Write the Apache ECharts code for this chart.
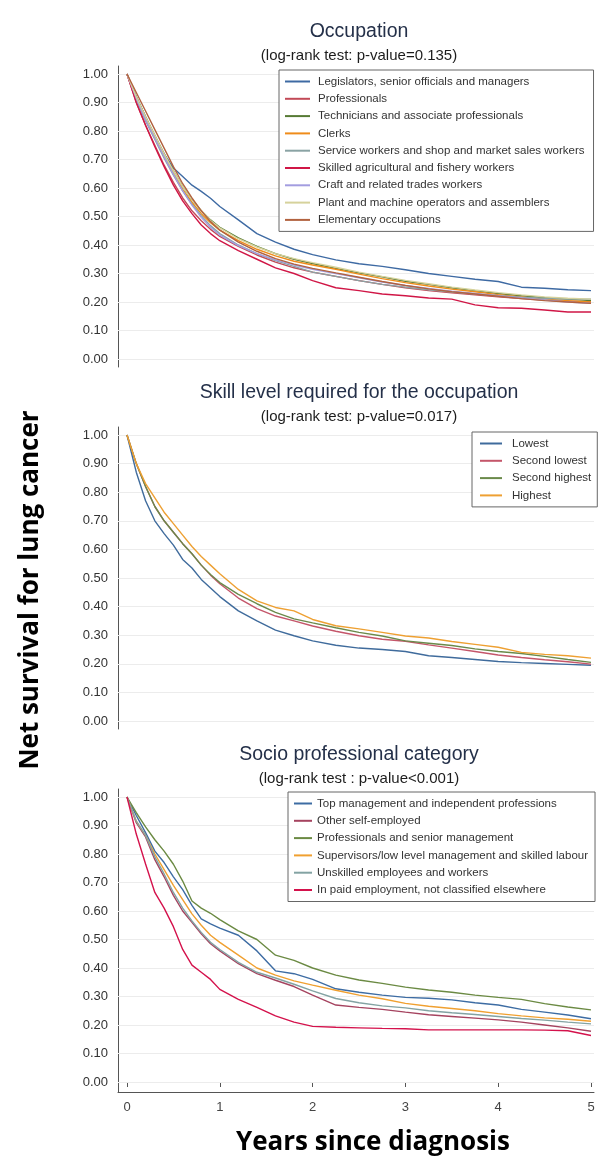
<!DOCTYPE html>
<html>
<head>
<meta charset="utf-8">
<script src="https://cdn.jsdelivr.net/npm/echarts@6/dist/echarts.min.js"></script>
<style>
  html, body { margin: 0; padding: 0; background: #ffffff; }
  #chart { width: 609px; height: 1166px; }
</style>
</head>
<body>
<div id="chart"></div>
<script>
// Follow-up times (years since diagnosis) at which the survival curves are read
const YEARS = [0, 0.1, 0.2, 0.3, 0.4, 0.5, 0.6, 0.7, 0.8, 0.9, 1.0, 1.2, 1.4, 1.6, 1.8, 2.0,
               2.25, 2.5, 2.75, 3.0, 3.25, 3.5, 3.75, 4.0, 4.25, 4.5, 4.75, 5.0];
const Y_TICKS = [0, 0.1, 0.2, 0.3, 0.4, 0.5, 0.6, 0.7, 0.8, 0.9, 1.0];

// Panel titles
const TITLES = ['Occupation', 'Skill level required for the occupation', 'Socio professional category'];
const SUBTITLES = ['(log-rank test: p-value=0.135)', '(log-rank test: p-value=0.017)', '(log-rank test : p-value<0.001)'];

// Panel 1: occupation
const OCC_NAMES = ['Legislators, senior officials and managers', 'Professionals',
  'Technicians and associate professionals', 'Clerks',
  'Service workers and shop and market sales workers', 'Skilled agricultural and fishery workers',
  'Craft and related trades workers', 'Plant and machine operators and assemblers', 'Elementary occupations'];
const OCC_LEGISLATORS = [1.0, 0.92, 0.85, 0.78, 0.72, 0.67, 0.64, 0.61, 0.588, 0.564, 0.535, 0.488, 0.44, 0.41, 0.385, 0.366, 0.348, 0.334, 0.325, 0.313, 0.30, 0.29, 0.28, 0.272, 0.252, 0.248, 0.243, 0.24];
const OCC_PROFESSIONALS = [1.0, 0.90, 0.82, 0.75, 0.68, 0.62, 0.565, 0.52, 0.485, 0.455, 0.43, 0.395, 0.365, 0.34, 0.32, 0.305, 0.29, 0.275, 0.262, 0.25, 0.24, 0.232, 0.225, 0.218, 0.212, 0.207, 0.203, 0.20];
const OCC_TECHNICIANS = [1.0, 0.92, 0.85, 0.785, 0.72, 0.66, 0.605, 0.56, 0.52, 0.488, 0.462, 0.425, 0.395, 0.37, 0.35, 0.335, 0.318, 0.302, 0.288, 0.273, 0.262, 0.25, 0.24, 0.23, 0.222, 0.215, 0.21, 0.205];
const OCC_CLERKS = [1.0, 0.915, 0.84, 0.775, 0.71, 0.65, 0.595, 0.55, 0.51, 0.478, 0.452, 0.415, 0.385, 0.362, 0.343, 0.33, 0.315, 0.298, 0.282, 0.268, 0.256, 0.245, 0.236, 0.226, 0.218, 0.21, 0.205, 0.20];
const OCC_SERVICE = [1.0, 0.91, 0.835, 0.77, 0.705, 0.645, 0.59, 0.543, 0.503, 0.468, 0.44, 0.40, 0.37, 0.345, 0.325, 0.305, 0.29, 0.275, 0.262, 0.252, 0.243, 0.235, 0.228, 0.222, 0.217, 0.213, 0.21, 0.21];
const OCC_AGRICULTURAL = [1.0, 0.90, 0.82, 0.745, 0.675, 0.61, 0.555, 0.51, 0.47, 0.44, 0.415, 0.38, 0.35, 0.32, 0.30, 0.275, 0.25, 0.24, 0.228, 0.222, 0.214, 0.21, 0.19, 0.18, 0.178, 0.172, 0.165, 0.165];
const OCC_CRAFT = [1.0, 0.915, 0.84, 0.775, 0.71, 0.648, 0.59, 0.54, 0.497, 0.462, 0.435, 0.398, 0.37, 0.348, 0.33, 0.315, 0.30, 0.285, 0.27, 0.258, 0.248, 0.238, 0.23, 0.222, 0.214, 0.207, 0.20, 0.195];
const OCC_PLANT = [1.0, 0.92, 0.85, 0.785, 0.72, 0.66, 0.605, 0.56, 0.52, 0.486, 0.46, 0.422, 0.393, 0.37, 0.352, 0.338, 0.322, 0.305, 0.29, 0.276, 0.264, 0.252, 0.242, 0.233, 0.225, 0.218, 0.213, 0.21];
const OCC_ELEMENTARY = [1.0, 0.935, 0.87, 0.805, 0.74, 0.675, 0.615, 0.565, 0.52, 0.482, 0.452, 0.41, 0.378, 0.352, 0.333, 0.318, 0.302, 0.287, 0.272, 0.258, 0.246, 0.236, 0.228, 0.22, 0.212, 0.205, 0.20, 0.195];
const OCC_COLORS = ['#3e6aa3', '#c24a57', '#567a34', '#ef8c1a', '#8aa3a4', '#d01646', '#a39de0', '#d6d29c', '#b2623f'];

// Panel 2: skill level
const SKILL_NAMES = ['Lowest', 'Second lowest', 'Second highest', 'Highest'];
const SKILL_LOWEST = [1.0, 0.87, 0.77, 0.70, 0.655, 0.615, 0.565, 0.535, 0.495, 0.465, 0.435, 0.385, 0.35, 0.318, 0.298, 0.28, 0.265, 0.255, 0.25, 0.243, 0.228, 0.222, 0.215, 0.208, 0.204, 0.201, 0.198, 0.195];
const SKILL_SECOND_LOWEST = [1.0, 0.90, 0.82, 0.75, 0.70, 0.66, 0.62, 0.585, 0.545, 0.51, 0.48, 0.43, 0.393, 0.367, 0.35, 0.332, 0.314, 0.298, 0.286, 0.279, 0.266, 0.255, 0.243, 0.231, 0.222, 0.214, 0.207, 0.199];
const SKILL_SECOND_HIGHEST = [1.0, 0.90, 0.82, 0.75, 0.70, 0.66, 0.62, 0.585, 0.545, 0.512, 0.484, 0.443, 0.41, 0.38, 0.357, 0.343, 0.326, 0.31, 0.297, 0.28, 0.272, 0.264, 0.252, 0.243, 0.236, 0.226, 0.215, 0.205];
const SKILL_HIGHEST = [1.0, 0.90, 0.83, 0.78, 0.73, 0.69, 0.65, 0.61, 0.575, 0.545, 0.515, 0.46, 0.42, 0.397, 0.385, 0.355, 0.333, 0.322, 0.31, 0.297, 0.29, 0.278, 0.268, 0.258, 0.24, 0.233, 0.228, 0.22];
const SKILL_COLORS = ['#3f6b9c', '#c4566a', '#6a8a4a', '#eea032'];

// Panel 3: socio professional category
const SPC_NAMES = ['Top management and independent professions', 'Other self-employed',
  'Professionals and senior management', 'Supervisors/low level management and skilled labour',
  'Unskilled employees and workers', 'In paid employment, not classified elsewhere'];
const SPC_TOP = [1.0, 0.935, 0.875, 0.81, 0.77, 0.72, 0.675, 0.62, 0.572, 0.555, 0.54, 0.515, 0.46, 0.39, 0.38, 0.36, 0.327, 0.315, 0.305, 0.297, 0.294, 0.288, 0.278, 0.27, 0.255, 0.245, 0.235, 0.222];
const SPC_SELF_EMPLOYED = [1.0, 0.91, 0.86, 0.78, 0.72, 0.655, 0.60, 0.56, 0.52, 0.485, 0.46, 0.415, 0.38, 0.357, 0.335, 0.305, 0.27, 0.262, 0.255, 0.245, 0.236, 0.23, 0.224, 0.218, 0.21, 0.20, 0.19, 0.178];
const SPC_PROFESSIONALS = [1.0, 0.945, 0.895, 0.85, 0.81, 0.764, 0.705, 0.635, 0.61, 0.592, 0.57, 0.53, 0.50, 0.445, 0.427, 0.40, 0.375, 0.358, 0.346, 0.333, 0.323, 0.315, 0.305, 0.297, 0.29, 0.275, 0.263, 0.253];
const SPC_SUPERVISORS = [1.0, 0.915, 0.865, 0.80, 0.745, 0.69, 0.64, 0.59, 0.55, 0.515, 0.49, 0.445, 0.40, 0.375, 0.355, 0.34, 0.322, 0.305, 0.292, 0.276, 0.266, 0.258, 0.25, 0.24, 0.232, 0.225, 0.22, 0.213];
const SPC_UNSKILLED = [1.0, 0.915, 0.865, 0.79, 0.73, 0.665, 0.61, 0.565, 0.525, 0.49, 0.465, 0.42, 0.385, 0.365, 0.343, 0.32, 0.293, 0.278, 0.267, 0.26, 0.25, 0.243, 0.237, 0.23, 0.223, 0.217, 0.21, 0.204];
const SPC_PAID = [1.0, 0.87, 0.765, 0.665, 0.61, 0.545, 0.465, 0.41, 0.385, 0.36, 0.325, 0.29, 0.262, 0.232, 0.21, 0.195, 0.192, 0.19, 0.188, 0.187, 0.183, 0.183, 0.183, 0.183, 0.183, 0.182, 0.18, 0.163];
const SPC_COLORS = ['#3d6ca3', '#a5435f', '#6b8a43', '#f0a030', '#83a3a3', '#d4124c'];

const FONT = '"Liberation Sans", Arial, sans-serif';
const BOLD_FONT = '"Open Sans", Lato, sans-serif';

const PANELS = [
  { names: OCC_NAMES, values: [OCC_LEGISLATORS, OCC_PROFESSIONALS, OCC_TECHNICIANS, OCC_CLERKS, OCC_SERVICE,
      OCC_AGRICULTURAL, OCC_CRAFT, OCC_PLANT, OCC_ELEMENTARY], colors: OCC_COLORS,
    top: 74, height: 285, extBottom: 8, xAxis: false,
    legend: { left: 279, top: 70, itemWidth: 25, textGap: 3, padding: [5, 9, 5, 6] } },
  { names: SKILL_NAMES, values: [SKILL_LOWEST, SKILL_SECOND_LOWEST, SKILL_SECOND_HIGHEST, SKILL_HIGHEST],
    colors: SKILL_COLORS, top: 435, height: 286, extBottom: 8, xAxis: false,
    legend: { left: 472, top: 432, itemWidth: 22, textGap: 5, padding: [5, 6, 5, 8] } },
  { names: SPC_NAMES, values: [SPC_TOP, SPC_SELF_EMPLOYED, SPC_PROFESSIONALS, SPC_SUPERVISORS, SPC_UNSKILLED, SPC_PAID],
    colors: SPC_COLORS, top: 797, height: 285, extBottom: 10, xAxis: true,
    legend: { left: 288, top: 792, itemWidth: 18, textGap: 0, padding: [5, 7, 5, 6] } }
];

const DATA_LEFT = 127, DATA_WIDTH = 464;   // x = 0 .. 5 years
const FRAME_LEFT = 118, FRAME_RIGHT = 594;  // axis frame incl. margins
const EXT_TOP = 8;
const PX_PER_YEAR = DATA_WIDTH / 5;
const TITLE_X = DATA_LEFT + DATA_WIDTH / 2;

const grid = [], xAxis = [], yAxis = [], series = [], legend = [], graphic = [];

PANELS.forEach((p, k) => {
  const gData = 2 * k, gFrame = 2 * k + 1;
  grid.push({ left: DATA_LEFT, top: p.top, width: DATA_WIDTH, height: p.height });
  grid.push({ left: FRAME_LEFT, top: p.top - EXT_TOP, width: FRAME_RIGHT - FRAME_LEFT,
              height: p.height + EXT_TOP + p.extBottom });

  // data axes: ticks and labels
  xAxis.push({
    type: 'value', gridIndex: gData, min: 0, max: 5, interval: 1, show: p.xAxis, offset: p.extBottom,
    axisLine: { show: false }, splitLine: { show: false },
    axisTick: { show: true, length: 5, lineStyle: { color: '#555' } },
    axisLabel: { fontFamily: FONT, fontSize: 13, color: '#444', margin: 9 }
  });
  yAxis.push({
    type: 'value', gridIndex: gData, min: 0, max: 1, interval: 0.1, offset: 9,
    axisLine: { show: false }, splitLine: { show: false },
    axisTick: { show: true, length: 5, lineStyle: { color: '#555' } },
    axisLabel: { fontFamily: FONT, fontSize: 13, color: '#333', margin: 10,
                 formatter: v => v.toFixed(2) }
  });
  // frame axes: axis lines and grid lines
  xAxis.push({
    type: 'value', gridIndex: gFrame,
    min: -(DATA_LEFT - FRAME_LEFT) / PX_PER_YEAR,
    max: 5 + (FRAME_RIGHT - DATA_LEFT - DATA_WIDTH) / PX_PER_YEAR,
    axisLine: { show: p.xAxis, onZero: false, lineStyle: { color: '#555', width: 1 } },
    axisTick: { show: false }, axisLabel: { show: false }, splitLine: { show: false }
  });
  yAxis.push({
    type: 'value', gridIndex: gFrame,
    min: -p.extBottom / p.height, max: 1 + EXT_TOP / p.height,
    axisLine: { show: true, onZero: false, lineStyle: { color: '#555', width: 1 } },
    axisTick: { show: false }, axisLabel: { show: false }, splitLine: { show: false }
  });

  series.push({
    type: 'line', xAxisIndex: gFrame, yAxisIndex: gFrame, data: [], silent: true, z: 1,
    markLine: {
      silent: true, symbol: 'none', animation: false, z: 1, label: { show: false },
      lineStyle: { color: '#ececec', width: 1, type: 'solid' },
      data: Y_TICKS.map(v => ({ yAxis: v }))
    }
  });

  p.names.forEach((name, i) => {
    series.push({
      name, type: 'line', xAxisIndex: gData, yAxisIndex: gData, z: 3,
      showSymbol: false, symbol: 'none', clip: false,
      color: p.colors[i],
      lineStyle: { width: 1.4, color: p.colors[i] },
      data: YEARS.map((t, j) => [t, p.values[i][j]])
    });
  });

  legend.push({
    orient: 'vertical', left: p.legend.left, top: p.legend.top, selectedMode: false, z: 10,
    data: p.names.map(n => ({ name: n, icon: 'rect' })),
    itemWidth: p.legend.itemWidth, itemHeight: 2, itemGap: 4.3,
    padding: p.legend.padding, borderColor: '#666', borderWidth: 1, backgroundColor: '#fff',
    textStyle: { fontFamily: FONT, fontSize: 11.5, lineHeight: 13, color: '#333',
                 padding: [0, 0, 0, p.legend.textGap] }
  });

  graphic.push({
    type: 'text', x: TITLE_X, y: p.top - 42,
    style: { text: TITLES[k], fontFamily: FONT, fontSize: 19.5, fill: '#243049',
             textAlign: 'center', textVerticalAlign: 'middle' }
  });
  graphic.push({
    type: 'text', x: TITLE_X, y: p.top - 18,
    style: { text: SUBTITLES[k], fontFamily: FONT, fontSize: 15, fill: '#1c1c1c',
             textAlign: 'center', textVerticalAlign: 'middle' }
  });
});

graphic.push({
  type: 'text', x: 31, y: 590, rotation: Math.PI / 2,
  style: { text: 'Net survival for lung cancer', fontFamily: BOLD_FONT, fontWeight: 'bold',
           fontSize: 26, fill: '#000', textAlign: 'center', textVerticalAlign: 'middle' }
});
graphic.push({
  type: 'text', x: 373, y: 1143,
  style: { text: 'Years since diagnosis', fontFamily: BOLD_FONT, fontWeight: 'bold',
           fontSize: 26, fill: '#000', textAlign: 'center', textVerticalAlign: 'middle' }
});

const chart = echarts.init(document.getElementById('chart'), null, { renderer: 'canvas' });
chart.setOption({
  animation: false,
  backgroundColor: '#ffffff',
  grid, xAxis, yAxis, series, legend, graphic
});
</script>
</body>
</html>
